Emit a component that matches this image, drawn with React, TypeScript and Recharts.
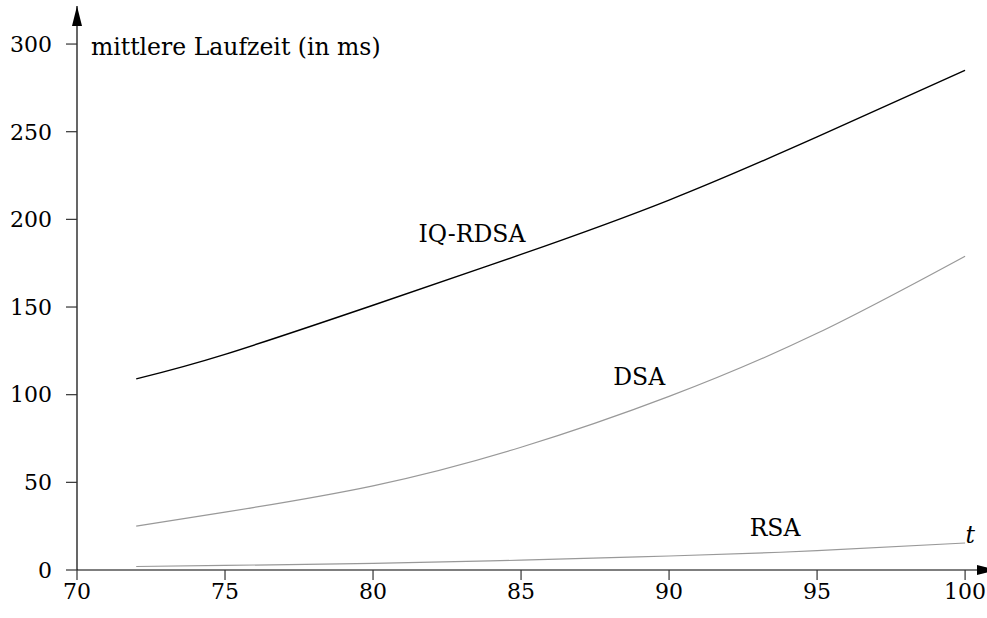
import React from "react";
import { LineChart, Line, XAxis, YAxis, ReferenceDot } from "recharts";

const T_VALUES = [72, 75, 80, 85, 90, 95, 100];
const IQ_RDSA = [109, 123, 151, 180, 211, 247, 285];
const DSA = [25, 33, 48, 70, 99, 135, 179];
const RSA = [2, 2.6, 3.8, 5.6, 8, 11, 15.4];
const X_TICKS = [70, 75, 80, 85, 90, 95, 100];
const Y_TICKS = [0, 50, 100, 150, 200, 250, 300];

const X_MAX = 100.74;
const Y_MAX = 321.7;

const FONT = "'DejaVu Serif', serif";
const TICK_SIZE = 22;
const LABEL_SIZE = 23.5;

const data = T_VALUES.map((t, i) => ({
  t,
  iq: IQ_RDSA[i],
  dsa: DSA[i],
  rsa: RSA[i],
}));

const labelShape =
  (text: string, anchor: "start" | "middle", italic = false) =>
  (props: any) => (
    <text
      x={props.cx}
      y={props.cy}
      textAnchor={anchor}
      style={{ fontFamily: FONT, fontSize: LABEL_SIZE, fontStyle: italic ? "italic" : "normal" }}
      fill="#000"
    >
      {text}
    </text>
  );

const arrowRight = (props: any) => (
  <path
    d={`M${props.cx - 10},${props.cy - 5} L${props.cx + 10},${props.cy} L${props.cx - 10},${props.cy + 5} Z`}
    fill="#000"
  />
);

const arrowUp = (props: any) => (
  <path
    d={`M${props.cx - 5},${props.cy + 20} L${props.cx},${props.cy} L${props.cx + 5},${props.cy + 20} Z`}
    fill="#000"
  />
);

export default function App() {
  const tick = { fontSize: TICK_SIZE, fill: "#000", style: { fontFamily: FONT } };
  return (
    <div style={{ position: "absolute", left: 0, top: 0, background: "#fff", fontFamily: FONT }}>
      <LineChart
        width={987}
        height={618}
        data={data}
        margin={{ top: 6, right: 0, bottom: 0, left: 0 }}
        style={{ fontFamily: FONT }}
      >
        <XAxis
          dataKey="t"
          type="number"
          domain={[70, X_MAX]}
          ticks={X_TICKS}
          allowDataOverflow
          height={48}
          tickSize={10}
          tickMargin={3}
          axisLine={{ stroke: "#000", strokeWidth: 1.2 }}
          tickLine={{ stroke: "#333", strokeWidth: 1.2 }}
          tick={tick}
        />
        <YAxis
          type="number"
          domain={[0, Y_MAX]}
          ticks={Y_TICKS}
          allowDataOverflow
          width={77}
          tickSize={11}
          tickMargin={14}
          axisLine={{ stroke: "#000", strokeWidth: 1.2 }}
          tickLine={{ stroke: "#333", strokeWidth: 1.2 }}
          tick={tick}
        />
        <Line
          type="natural"
          dataKey="iq"
          stroke="#000"
          strokeWidth={1.4}
          dot={false}
          isAnimationActive={false}
        />
        <Line
          type="natural"
          dataKey="dsa"
          stroke="#999"
          strokeWidth={1.2}
          dot={false}
          isAnimationActive={false}
        />
        <Line
          type="natural"
          dataKey="rsa"
          stroke="#999"
          strokeWidth={1.2}
          dot={false}
          isAnimationActive={false}
        />
        <ReferenceDot x={X_MAX} y={0} ifOverflow="visible" shape={arrowRight} />
        <ReferenceDot x={70} y={Y_MAX} ifOverflow="visible" shape={arrowUp} />
        <ReferenceDot x={70.47} y={293.7} ifOverflow="visible" shape={labelShape("mittlere Laufzeit (in ms)", "start")} />
        <ReferenceDot x={83.34} y={187.1} ifOverflow="visible" shape={labelShape("IQ-RDSA", "middle")} />
        <ReferenceDot x={88.99} y={105.5} ifOverflow="visible" shape={labelShape("DSA", "middle")} />
        <ReferenceDot x={93.58} y={19.4} ifOverflow="visible" shape={labelShape("RSA", "middle")} />
        <ReferenceDot x={100.17} y={15.4} ifOverflow="visible" shape={labelShape("t", "middle", true)} />
      </LineChart>
    </div>
  );
}
